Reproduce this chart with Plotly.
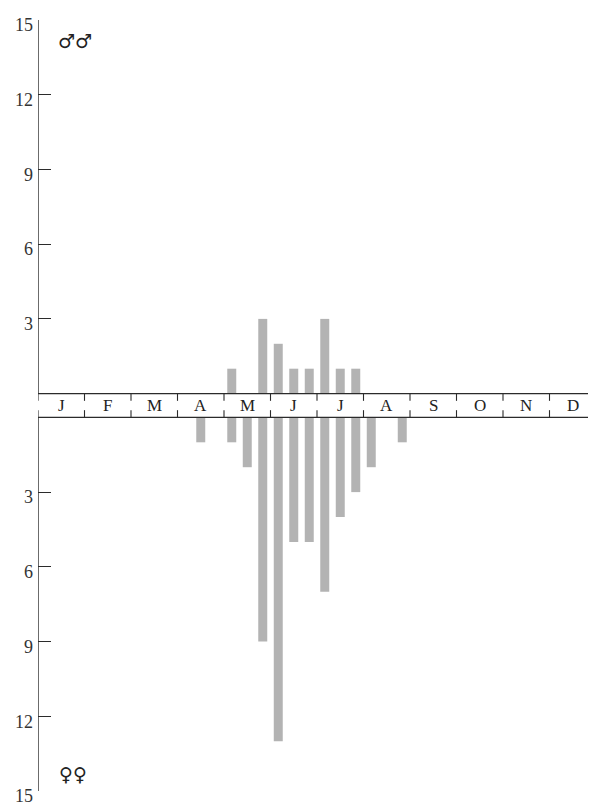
import plotly.graph_objects as go

months = ["J", "F", "M", "A", "M", "J", "J", "A", "S", "O", "N", "D"]
# counts per ten-day period (3 per month), Jan..Dec
males = [0, 0, 0,  0, 0, 0,  0, 0, 0,  0, 0, 0,
         1, 0, 3,  2, 1, 1,  3, 1, 1,  0, 0, 0,
         0, 0, 0,  0, 0, 0,  0, 0, 0,  0, 0, 0]
females = [0, 0, 0,  0, 0, 0,  0, 0, 0,  0, 1, 0,
           1, 2, 9,  13, 5, 5,  7, 4, 3,  2, 0, 1,
           0, 0, 0,  0, 0, 0,  0, 0, 0,  0, 0, 0]
tick_values = [3, 6, 9, 12, 15]

GAP = 0.955          # height of the month band in value units
BAR_COLOR = "#b3b3b3"
LINE_COLOR = "#2b2b2b"
SERIF = "Liberation Serif"

n = len(males)
xs = [i + 0.5 for i in range(n)]

fig = go.Figure()
fig.add_trace(go.Bar(
    x=xs, y=males, base=0, width=0.58,
    marker=dict(color=BAR_COLOR, line=dict(width=0)),
    hoverinfo="skip", showlegend=False))
fig.add_trace(go.Bar(
    x=xs, y=[-v for v in females], base=-GAP, width=0.58,
    marker=dict(color=BAR_COLOR, line=dict(width=0)),
    hoverinfo="skip", showlegend=False))

tickvals = tick_values + [-GAP - v for v in tick_values]
ticktext = [str(v) for v in tick_values] * 2

shapes = []
lw = 1.4
# axis line (upper and lower parts)
shapes.append(dict(type="line", xref="x", yref="y", x0=0, x1=0, y0=0, y1=15,
                   line=dict(color=LINE_COLOR, width=lw)))
shapes.append(dict(type="line", xref="x", yref="y", x0=0, x1=0, y0=-GAP, y1=-GAP - 15,
                   line=dict(color=LINE_COLOR, width=lw)))
# band lines (run to the right edge of the page)
for yv in (0, -GAP):
    shapes.append(dict(type="line", xref="paper", yref="y", x0=0, x1=1.03, y0=yv, y1=yv,
                       line=dict(color=LINE_COLOR, width=lw)))
# month dividers (broken in the middle)
seg = 0.29
for m in range(len(months) + 1):
    xv = 3 * m
    shapes.append(dict(type="line", xref="x", yref="y", x0=xv, x1=xv, y0=0, y1=-seg,
                       line=dict(color=LINE_COLOR, width=1.1)))
    shapes.append(dict(type="line", xref="x", yref="y", x0=xv, x1=xv, y0=-GAP, y1=-GAP + seg,
                       line=dict(color=LINE_COLOR, width=1.1)))

annotations = []
for m, lab in enumerate(months):
    annotations.append(dict(x=3 * m + 1.5, y=-GAP / 2, xref="x", yref="y", text=lab,
                            showarrow=False, font=dict(family=SERIF, size=17, color="#222"),
                            xanchor="center", yanchor="middle"))
annotations.append(dict(x=0.066, y=0.973, xref="paper", yref="paper", text="♂♂",
                        showarrow=False, font=dict(family="DejaVu Sans", size=19, color="#222"),
                        xanchor="center", yanchor="middle"))
annotations.append(dict(x=0.063, y=0.022, xref="paper", yref="paper", text="♀♀",
                        showarrow=False, font=dict(family="DejaVu Sans", size=19, color="#222"),
                        xanchor="center", yanchor="middle"))

fig.update_layout(
    width=596, height=805,
    margin=dict(l=27, r=8, t=7, b=20),
    paper_bgcolor="white", plot_bgcolor="white",
    barmode="overlay",
    shapes=shapes,
    annotations=annotations,
    xaxis=dict(range=[0, n], visible=False, fixedrange=True),
    yaxis=dict(range=[-GAP - 15, 15], tickvals=tickvals, ticktext=ticktext,
               ticks="inside", ticklen=13, tickwidth=1.3, tickcolor=LINE_COLOR,
               showgrid=False, zeroline=False, showline=False,
               ticklabelshift=5, ticklabelstandoff=4, ticklabeloverflow="allow",
               tickfont=dict(family=SERIF, size=18, color="#333")),
)

fig.write_html("out.html")
